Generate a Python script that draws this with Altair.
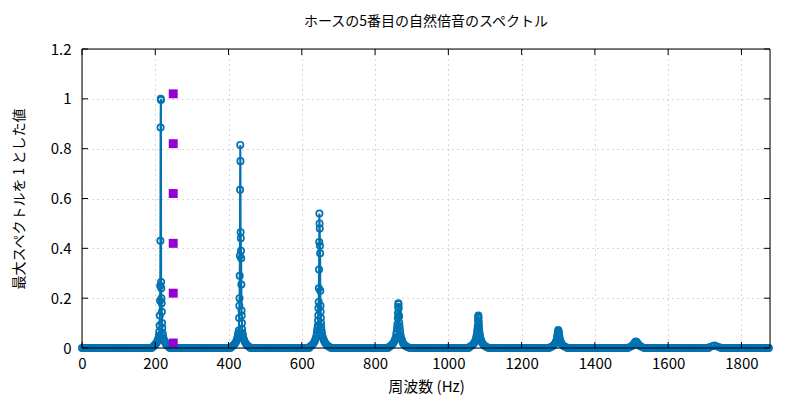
import altair as alt
import pandas as pd

# ---------------- text ----------------
TITLE = "ホースの5番目の自然倍音のスペクトル"
X_TITLE = "周波数 (Hz)"
Y_TITLE = "最大スペクトルを 1 とした値"
X_TICKS = [0, 200, 400, 600, 800, 1000, 1200, 1400, 1600, 1800]
Y_TICKS = [0, 0.2, 0.4, 0.6, 0.8, 1.0, 1.2]

# ---------------- spectrum data ----------------
PEAK_CENTERS = [215, 432, 648, 864, 1082, 1300, 1512, 1726]

P1_OFF = [-22, -19, -16, -14, -12, -10, -8, -7, -6, -5, -4, -3, -2.5, -2, -1.5, -1, -0.5, 0,
          0.5, 1, 1.5, 2, 2.5, 3, 3.5, 4, 5, 6, 7, 8, 10, 12, 14, 17, 20, 23]
P1_VAL = [0.004, 0.008, 0.012, 0.016, 0.02, 0.025, 0.03, 0.035, 0.04, 0.05, 0.065, 0.09, 0.13,
          0.19, 0.25, 0.43, 0.885, 1.0, 0.995, 0.265, 0.24, 0.2, 0.18, 0.145, 0.10, 0.08, 0.06,
          0.05, 0.04, 0.035, 0.028, 0.022, 0.016, 0.011, 0.007, 0.004]

P2_OFF = [-24, -21, -18, -15, -12, -10, -8, -7, -6, -5, -4, -3, -2.5, -2, -1.5, -1, -0.5, 0,
          0.5, 1, 1.5, 2, 2.5, 3, 3.5, 4, 4.5, 5, 6, 7, 8, 10, 12, 15, 18, 21, 25]
P2_VAL = [0.004, 0.008, 0.012, 0.017, 0.023, 0.03, 0.038, 0.045, 0.055, 0.06, 0.07, 0.12, 0.17,
          0.2, 0.29, 0.37, 0.635, 0.815, 0.75, 0.465, 0.44, 0.39, 0.36, 0.255, 0.15, 0.13, 0.10,
          0.075, 0.06, 0.05, 0.042, 0.034, 0.026, 0.018, 0.012, 0.008, 0.004]

P3_OFF = [-27, -23, -20, -17, -14, -12, -10, -8, -7, -6, -5, -4, -3.5, -3, -2.5, -2, -1.5, -1,
          -0.5, 0, 0.5, 1, 1.5, 2, 2.5, 3, 3.5, 4, 4.5, 5, 6, 7, 8, 10, 12, 14, 17, 20, 24, 28]
P3_VAL = [0.004, 0.008, 0.012, 0.017, 0.024, 0.03, 0.038, 0.048, 0.058, 0.07, 0.08, 0.09, 0.11,
          0.13, 0.16, 0.185, 0.24, 0.315, 0.425, 0.54, 0.50, 0.48, 0.41, 0.38, 0.23, 0.17, 0.145,
          0.12, 0.10, 0.085, 0.07, 0.058, 0.048, 0.04, 0.032, 0.025, 0.018, 0.012, 0.007, 0.004]

P4_OFF = [-26, -22, -18, -15, -12, -10, -8, -6, -5, -4, -3, -2, -1.5, -1, -0.5, 0, 0.5, 1, 1.5,
          2, 3, 4, 5, 6, 8, 10, 12, 15, 18, 22, 26]
P4_VAL = [0.004, 0.008, 0.013, 0.018, 0.025, 0.032, 0.04, 0.055, 0.065, 0.08, 0.095, 0.12, 0.14,
          0.165, 0.18, 0.175, 0.16, 0.13, 0.125, 0.10, 0.085, 0.07, 0.055, 0.045, 0.036, 0.028,
          0.02, 0.014, 0.009, 0.006, 0.003]

P5_OFF = [-24, -20, -16, -13, -10, -8, -6, -5, -4, -3, -2, -1.5, -1, -0.5, 0, 0.5, 1, 1.5, 2,
          3, 4, 5, 6, 8, 10, 13, 16, 20, 24]
P5_VAL = [0.004, 0.008, 0.012, 0.017, 0.024, 0.03, 0.04, 0.048, 0.056, 0.07, 0.08, 0.09, 0.11,
          0.125, 0.13, 0.12, 0.105, 0.09, 0.075, 0.062, 0.05, 0.042, 0.035, 0.028, 0.021, 0.015,
          0.01, 0.006, 0.003]

P6_OFF = [-22, -17, -13, -10, -8, -6, -4, -3, -2, -1, 0, 1, 2, 3, 4, 6, 8, 10, 13, 17, 22]
P6_VAL = [0.003, 0.006, 0.01, 0.015, 0.02, 0.026, 0.035, 0.045, 0.055, 0.064, 0.072, 0.068,
          0.058, 0.047, 0.037, 0.028, 0.02, 0.015, 0.01, 0.006, 0.003]

P7_OFF = [-18, -12, -8, -5, -2, 0, 2, 5, 8, 12, 18]
P7_VAL = [0.003, 0.007, 0.012, 0.018, 0.024, 0.026, 0.024, 0.018, 0.012, 0.007, 0.003]

P8_OFF = [-14, -6, 0, 6, 14]
P8_VAL = [0.003, 0.007, 0.01, 0.007, 0.003]

PEAK_OFFSETS = [P1_OFF, P2_OFF, P3_OFF, P4_OFF, P5_OFF, P6_OFF, P7_OFF, P8_OFF]
PEAK_VALUES = [P1_VAL, P2_VAL, P3_VAL, P4_VAL, P5_VAL, P6_VAL, P7_VAL, P8_VAL]

# flat (zero) spectrum between the peaks, sampled every 5 Hz
BASE_STEP = 5
BASE_MAX = 1875

# purple square markers
MARK_X = [249, 249, 249, 249, 249, 249]
MARK_Y = [0.02, 0.22, 0.42, 0.62, 0.82, 1.02]

# ---------------- build table ----------------
rows = []
windows = []
for c, offs, vals in zip(PEAK_CENTERS, PEAK_OFFSETS, PEAK_VALUES):
    windows.append((c + min(offs), c + max(offs)))
    for o, v in zip(offs, vals):
        rows.append((c + o, v))
for f in range(0, BASE_MAX + 1, BASE_STEP):
    if not any(lo <= f <= hi for lo, hi in windows):
        rows.append((f, 0.0))
rows.sort()
spec = pd.DataFrame(rows, columns=["f", "v"])
marks = pd.DataFrame({"f": MARK_X, "v": MARK_Y})

# ---------------- chart ----------------
W, H = 688, 299
FONT = "Noto Sans CJK JP"
BLUE = "#0072B2"
PURPLE = "#9400D3"

XENC = alt.X("f:Q",
             scale=alt.Scale(domain=[0, 1878], nice=False, zero=False),
             axis=alt.Axis(values=X_TICKS, format="d", title=X_TITLE,
                           grid=True, gridDash=[1, 4], gridColor="#b0b0b0", gridWidth=1,
                           domain=False, ticks=False, tickSize=0,
                           labelPadding=8, labelFontSize=15, labelFont=FONT, labelColor="black",
                           labelFlush=False,
                           titleFont=FONT, titleFontSize=15, titleFontWeight="normal",
                           titleColor="black", titleY=38, titleBaseline="middle"))
YENC = alt.Y("v:Q",
             scale=alt.Scale(domain=[0, 1.2], nice=False, zero=False),
             axis=alt.Axis(values=Y_TICKS, format="~g", title=Y_TITLE,
                           grid=True, gridDash=[1, 4], gridColor="#b0b0b0", gridWidth=1,
                           domain=False, ticks=False, tickSize=0,
                           labelPadding=11, labelFontSize=15, labelFont=FONT, labelColor="black",
                           labelFlush=False,
                           titleFont=FONT, titleFontSize=14, titleFontWeight="normal",
                           titleColor="black", titleX=-63, titleY=H / 2, titleAngle=270,
                           titleBaseline="middle", titleAlign="center"))

line = alt.Chart(spec).mark_line(color=BLUE, strokeWidth=2).encode(x=XENC, y=YENC)
pts = alt.Chart(spec).mark_point(shape="circle", filled=False, color=BLUE, strokeWidth=1.7,
                                 size=40, opacity=1).encode(x=XENC, y=YENC)
sq = alt.Chart(marks).mark_point(shape="square", filled=True, color=PURPLE, size=80,
                                 opacity=1).encode(x=XENC, y=YENC)

xt = pd.DataFrame({"f": X_TICKS})
yt = pd.DataFrame({"v": Y_TICKS})
one = pd.DataFrame({"a": [0]})
TK = 6
xt_bot = alt.Chart(xt).mark_rule(color="black").encode(x=XENC, y=alt.value(H), y2=alt.value(H - TK))
xt_top = alt.Chart(xt).mark_rule(color="black").encode(x=XENC, y=alt.value(0), y2=alt.value(TK))
yt_l = alt.Chart(yt).mark_rule(color="black").encode(y=YENC, x=alt.value(0), x2=alt.value(TK))
yt_r = alt.Chart(yt).mark_rule(color="black").encode(y=YENC, x=alt.value(W - TK), x2=alt.value(W))
fr_b = alt.Chart(one).mark_rule(color="black").encode(x=alt.value(0), x2=alt.value(W), y=alt.value(H))
fr_t = alt.Chart(one).mark_rule(color="black").encode(x=alt.value(0), x2=alt.value(W), y=alt.value(0))
fr_l = alt.Chart(one).mark_rule(color="black").encode(y=alt.value(0), y2=alt.value(H), x=alt.value(0))
fr_r = alt.Chart(one).mark_rule(color="black").encode(y=alt.value(0), y2=alt.value(H), x=alt.value(W))

chart = alt.layer(line, pts, sq, xt_bot, xt_top, yt_l, yt_r, fr_b, fr_t, fr_l, fr_r).properties(
    width=W, height=H,
    title=alt.TitleParams(TITLE, font=FONT, fontSize=14, fontWeight="normal", color="black",
                          anchor="middle", offset=13),
    autosize=alt.AutoSizeParams(type="none"),
    padding={"left": 74, "top": 41, "right": 22, "bottom": 52},
).configure_view(stroke=None).configure(font=FONT, background="white")

chart.save("out.html", embed_options={"renderer": "svg", "actions": False})
